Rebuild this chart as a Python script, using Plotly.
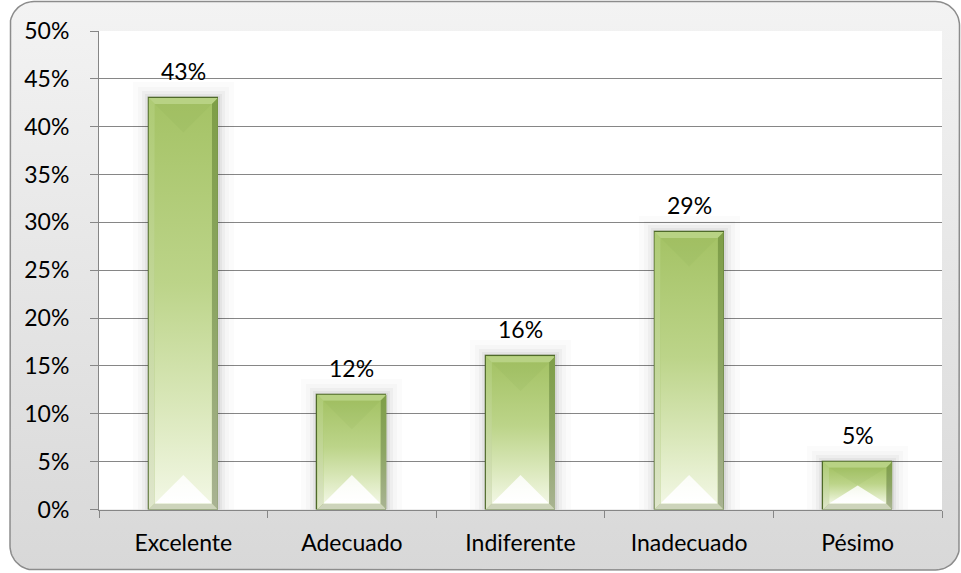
import numpy as np
import plotly.graph_objects as go

# ---- data -------------------------------------------------------------
categories = ["Excelente", "Adecuado", "Indiferente", "Inadecuado", "Pésimo"]
shares = [0.43, 0.12, 0.16, 0.29, 0.05]
y_tick_values = [0.0, 0.05, 0.10, 0.15, 0.20, 0.25, 0.30, 0.35, 0.40, 0.45, 0.50]

# ---- geometry (pixels) ----------------------------------------------------
FIG_W, FIG_H = 961, 573
PLOT_L, PLOT_R, PLOT_T, PLOT_B = 99, 942, 31, 509.5
Y_MAX = 0.5
BAR_W = 0.41

px_per_x = (PLOT_R - PLOT_L) / len(categories)
px_per_y = (PLOT_B - PLOT_T) / Y_MAX

FONT = "Lato"
FONT_SIZE = 23
GRID = "#868686"


def rounded_rect(x0, y0, x1, y1, r, n=16):
    """Closed polygon of a rounded rectangle in screen-like coords (y down)."""
    xs, ys = [], []
    corners = [
        (x1 - r, y0 + r, -90, 0),
        (x1 - r, y1 - r, 0, 90),
        (x0 + r, y1 - r, 90, 180),
        (x0 + r, y0 + r, 180, 270),
    ]
    for cx, cy, a0, a1 in corners:
        t = np.radians(np.linspace(a0, a1, n))
        xs.extend(cx + r * np.cos(t))
        ys.extend(cy + r * np.sin(t))
    xs.append(xs[0])
    ys.append(ys[0])
    return xs, ys


fig = go.Figure()

# ---- chart frame (full-figure subplot x/y, pixel units) -------------------
fx, fy = rounded_rect(10, 1.5, 959.5, 570, 24)
fig.add_trace(go.Scatter(
    x=fx, y=fy, mode="lines", fill="toself",
    line=dict(color="#8c8c8c", width=1.5),
    fillgradient=dict(type="vertical",
                      colorscale=[[0, "#d8d8d8"], [1, "#f3f3f3"]]),
    xaxis="x", yaxis="y", hoverinfo="skip", showlegend=False,
))
fig.add_trace(go.Scatter(
    x=[PLOT_L, PLOT_R, PLOT_R, PLOT_L, PLOT_L],
    y=[PLOT_T, PLOT_T, PLOT_B, PLOT_B, PLOT_T],
    mode="lines", fill="toself", fillcolor="white",
    line=dict(width=0), xaxis="x", yaxis="y",
    hoverinfo="skip", showlegend=False,
))

# ---- bars ---------------------------------------------------------------
xpos = list(range(len(categories)))

# soft shadow around each column
for spread, alpha in [(16, 0.015), (11, 0.02), (7, 0.03), (4, 0.04), (2, 0.05)]:
    fig.add_trace(go.Bar(
        x=xpos, y=[v + spread / px_per_y for v in shares],
        width=BAR_W + 2 * spread / px_per_x,
        marker=dict(color=f"rgba(0,0,0,{alpha})", line=dict(width=0)),
        xaxis="x2", yaxis="y2", hoverinfo="skip", showlegend=False,
    ))

fig.add_trace(go.Bar(
    x=xpos, y=shares, width=BAR_W,
    marker=dict(color="#a9c76d", line=dict(color="#4f6a2a", width=1.2)),
    customdata=categories,
    hovertemplate="%{customdata}: %{y:.0%}<extra></extra>",
    xaxis="x2", yaxis="y2", showlegend=False,
))


def poly(xs, ys, **kw):
    fig.add_trace(go.Scatter(
        x=list(xs) + [xs[0]], y=list(ys) + [ys[0]], mode="lines",
        fill="toself", line=dict(width=0), xaxis="x2", yaxis="y2",
        hoverinfo="skip", showlegend=False, **kw,
    ))


hw = BAR_W / 2
bx = 6 / px_per_x
by = 6 / px_per_y
for c, v in zip(xpos, shares):
    L, R = c - hw, c + hw
    iL, iR = L + bx, R - bx
    iB, iT = by, v - by
    # bevel faces
    poly([L, R, iR, iL], [v, v, iT, iT], fillcolor="#b8d284")
    poly([L, L, iL, iL], [0, v, iT, iB],
         fillgradient=dict(type="vertical",
                           colorscale=[[0, "#dfe6cc"], [0.5, "#c3d79a"], [1, "#aecb74"]]))
    poly([R, R, iR, iR], [0, v, iT, iB],
         fillgradient=dict(type="vertical",
                           colorscale=[[0, "#a9b393"], [0.5, "#8ca563"], [1, "#7e9e47"]]))
    poly([L, R, iR, iL], [0, 0, iB, iB], fillcolor="#cdd4bb")
    # body with vertical light-to-green gradient
    poly([iL, iR, iR, iL], [iB, iB, iT, iT],
         fillgradient=dict(type="vertical",
                           colorscale=[[0, "#f2f7e4"], [0.25, "#d9e7b9"],
                                       [0.55, "#bcd489"], [1, "#a5c366"]]))
    # diagonal facets meeting in the middle of the column
    inner_w_px = (iR - iL) / 2 * px_per_x
    inner_h_px = (iT - iB) * px_per_y
    h = min(inner_w_px, inner_h_px / 2) / px_per_y
    poly([iL, iR, c], [iT, iT, iT - h], fillcolor="rgba(120,150,60,0.08)")
    poly([iL, iR, c], [iB, iB, iB + h],
         fillgradient=dict(type="vertical",
                           colorscale=[[0, "rgba(255,255,255,1)"],
                                       [1, "rgba(255,255,255,0.8)"]]))

# value labels above columns
annotations = [
    dict(x=c, y=v, xref="x2", yref="y2", text=f"{round(v * 100)}%",
         showarrow=False, yanchor="bottom", yshift=11,
         font=dict(family=FONT, size=FONT_SIZE, color="#000000"))
    for c, v in zip(xpos, shares)
]

fig.update_layout(
    width=FIG_W, height=FIG_H, autosize=False,
    margin=dict(l=0, r=0, t=0, b=0, pad=0, autoexpand=False),
    paper_bgcolor="white", plot_bgcolor="rgba(0,0,0,0)",
    barmode="overlay", bargap=0,
    font=dict(family=FONT, size=FONT_SIZE, color="#000000"),
    annotations=annotations,
    xaxis=dict(domain=[0, 1], range=[0, FIG_W], visible=False,
               fixedrange=True, automargin=False),
    yaxis=dict(domain=[0, 1], range=[FIG_H, 0], visible=False,
               fixedrange=True, automargin=False),
    xaxis2=dict(
        domain=[PLOT_L / FIG_W, PLOT_R / FIG_W], anchor="y2",
        range=[-0.5, len(categories) - 0.5],
        tickvals=xpos, ticktext=categories, ticks="",
        showgrid=False, zeroline=False,
        showline=True, linecolor=GRID, linewidth=1,
        minor=dict(tickvals=[i - 0.5 for i in range(len(categories) + 1)],
                   ticks="outside", ticklen=7, tickcolor=GRID, tickwidth=1,
                   showgrid=False),
        ticklabelstandoff=13, fixedrange=True, automargin=False,
    ),
    yaxis2=dict(
        domain=[1 - PLOT_B / FIG_H, 1 - PLOT_T / FIG_H], anchor="x2",
        range=[0, Y_MAX], tickvals=y_tick_values, tickformat=".0%",
        showgrid=True, gridcolor=GRID, gridwidth=1, zeroline=False,
        showline=True, linecolor=GRID, linewidth=1,
        ticks="outside", ticklen=8, tickcolor=GRID,
        ticklabelstandoff=16, fixedrange=True, automargin=False,
    ),
)

fig.write_html("out.html")
